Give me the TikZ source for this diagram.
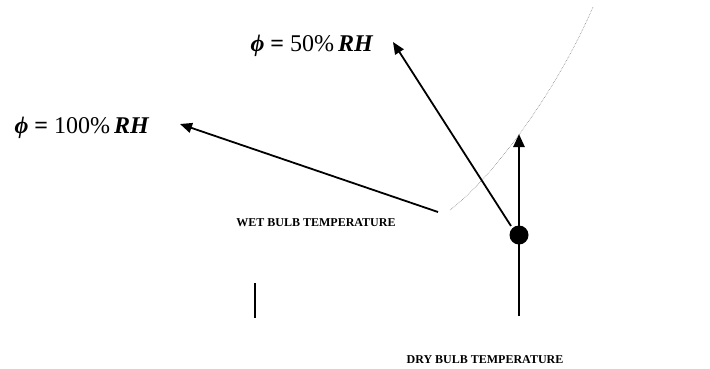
\documentclass[tikz,border=0pt]{standalone}
\usepackage{fontspec}
\setmainfont{Liberation Serif}
\usetikzlibrary{arrows.meta}
\newcommand{\rhtext}[1]{\textbf{\textit{ϕ}} \textbf{=} #1\%\,\textbf{\textit{RH}}}
\begin{document}
\begin{tikzpicture}[x=1pt,y=-1pt,
  arr/.style={line width=1.8pt,-{Triangle[length=12pt,width=10pt]}},
  rhlabel/.style={font=\fontsize{24}{26}\selectfont,inner sep=0pt},
  axlabel/.style={font=\fontsize{12}{13}\selectfont\bfseries,inner sep=0pt}]
\useasboundingbox (0,0) rectangle (710,368);
% labels
\node[rhlabel] (l50) at (312,46) {\rhtext{50}};
\node[rhlabel] (l100) at (82,128) {\rhtext{100}};
\node[axlabel] (wet) at (316,223) {WET BULB TEMPERATURE};
\node[axlabel] (dry) at (485,360) {DRY BULB TEMPERATURE};
% coordinates
\coordinate (t100) at (438,212);
\coordinate (h100) at (180,124);
\coordinate (t50) at (511,226);
\coordinate (h50) at (393,42);
\coordinate (tv) at (519,316);
\coordinate (hv) at (519,134);
\coordinate (sat) at (450,210);
\coordinate (top) at (593,7);
\coordinate (s1) at (255,283);
\coordinate (s2) at (255,318);
% saturation curve (dotted)
\draw[gray, line width=0.6pt, densely dotted] (sat) .. controls (490,180) and (555,95) .. (top);
% arrows
\draw[arr] (t100) -- (h100);
\draw[arr] (t50) -- (h50);
\draw[line width=2.6pt,-{Triangle[length=13pt,width=11pt]}] (tv) -- (hv);
\node[circle, fill=black, minimum size=19pt, inner sep=0pt] (dot) at (519,235) {};
% small vertical tick
\draw[line width=1.4pt] (s1) -- (s2);
\end{tikzpicture}
\end{document}
